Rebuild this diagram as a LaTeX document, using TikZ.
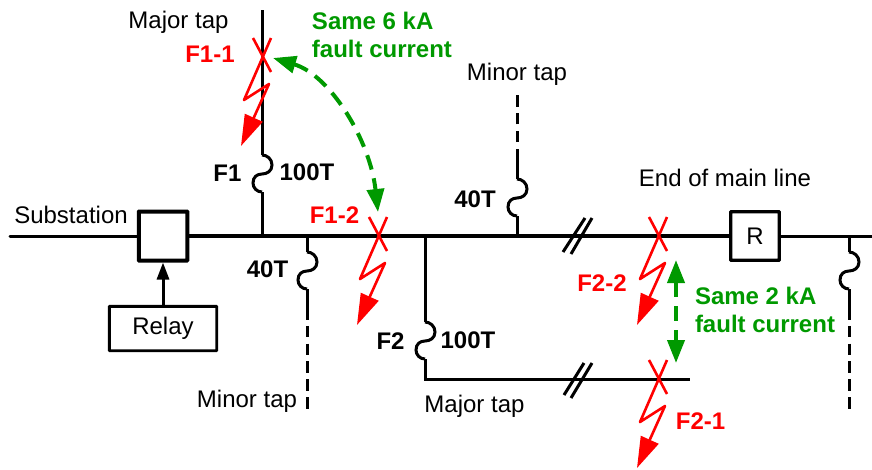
\documentclass[tikz,border=0pt]{standalone}
\usepackage{fontspec}
\setmainfont{Liberation Sans}
\usetikzlibrary{arrows.meta}

\begin{document}
\begin{tikzpicture}[
        x=1pt, y=-1pt,
        font=\fontsize{24}{28}\selectfont,
        heavy/.style={line width=3.6pt},
        wire/.style={line width=3pt},
        taildash/.style={line width=3pt, dash pattern=on 11.5pt off 6.3pt},
        box/.style={draw, line width=3.4pt, rounded corners=0.5pt, inner sep=0pt, align=center},
        bold/.style={font=\fontsize{24}{28}\selectfont\bfseries},
        faultlabel/.style={bold, text=red},
        samelabel/.style={bold, text=samegreen, align=left},
        same/.style={samegreen, line width=4pt, dash pattern=on 15pt off 9pt, {Triangle[length=23pt,width=17pt]}-{Triangle[length=23pt,width=17pt]}},
        fuse/.pic={
            \draw[wire] (0,0) .. controls (5,0) and (10,4) .. (10,10) .. controls (10,16) and (5,19) .. (0,19)
                .. controls (-5,19) and (-9,22) .. (-9,28) .. controls (-9,33) and (-5,37) .. (0,37);
            \coordinate (-in) at (0,0);
            \coordinate (-out) at (0,37);
        },
        fault/.pic={
            \draw[red, line width=2.6pt] (-9,-19) -- (9,15);
            \draw[red, line width=2.6pt, line join=round, -{Triangle[length=31pt,width=19pt]}] (9,-19) -- (-18,43) -- (7,27) -- (-21,89);
        }
    ]
    \definecolor{samegreen}{RGB}{0,153,0}
    \useasboundingbox (0,0) rectangle (872,469);

    % Nodes
    \node[box, line width=4pt, minimum width=48.5pt, minimum height=49pt] (breaker) at (163,236) {};
    \node[box, minimum size=48.5pt] (recloser) at (755,236) {R};
    \node[box, line width=2.8pt, minimum width=107.3pt, minimum height=44.3pt] (relay) at (163,328.5) {Relay};

    % Main line
    \coordinate (mainL) at (10,236);
    \coordinate (mainR) at (872,236);
    \coordinate (tapF1) at (262,236);
    \coordinate (tapF2) at (425,236);
    \coordinate (tapA) at (307,236);
    \coordinate (tapB) at (517,236);
    \coordinate (tapC) at (849,236);
    \draw[wire, line cap=round] (mainL) -- (breaker);
    \draw[heavy] (breaker) -- (recloser);
    \draw[wire] (recloser) -- (mainR);
    \draw[wire, -{Triangle[length=17pt,width=12pt]}] (relay) -- (breaker);

    % Major tap F1
    \coordinate (topF1) at (262,10);
    \pic (fuseF1) at (262,155) {fuse};
    \draw[wire] (topF1) -- (fuseF1-in);
    \draw[wire] (fuseF1-out) -- (tapF1);

    % Major tap F2
    \coordinate (cornerF2) at (425,379);
    \coordinate (endF2) at (690,379);
    \pic (fuseF2) at (425,322) {fuse};
    \draw[wire] (tapF2) -- (fuseF2-in);
    \draw[wire] (fuseF2-out) -- (cornerF2) -- (endF2);

    % Minor taps
    \coordinate (soloA) at (307,308);
    \coordinate (endA) at (307,414);
    \pic (fuseA) at (307,252) {fuse};
    \draw[wire] (tapA) -- (fuseA-in);
    \draw[wire] (fuseA-out) -- (soloA);
    \draw[taildash] (soloA) -- (endA);

    \coordinate (soloB) at (517,160);
    \coordinate (endB) at (517,91);
    \pic (fuseB) at (517,179) {fuse};
    \draw[wire] (tapB) -- (fuseB-out);
    \draw[wire] (fuseB-in) -- (soloB);
    \draw[taildash] (soloB) -- (endB);

    \coordinate (soloC) at (849,308);
    \coordinate (endC) at (849,414);
    \pic (fuseC) at (849,252) {fuse};
    \draw[wire] (tapC) -- (fuseC-in);
    \draw[wire] (fuseC-out) -- (soloC);
    \draw[taildash] (soloC) -- (endC);

    % Conductor marks
    \coordinate (markA1) at (563,252);
    \coordinate (markA2) at (585,218);
    \coordinate (markB1) at (571,254);
    \coordinate (markB2) at (592,218);
    \coordinate (markC1) at (564,395);
    \coordinate (markC2) at (584,363);
    \coordinate (markD1) at (571,398);
    \coordinate (markD2) at (592,363);
    \draw[wire] (markA1) -- (markA2);
    \draw[wire] (markB1) -- (markB2);
    \draw[wire] (markC1) -- (markC2);
    \draw[wire] (markD1) -- (markD2);

    % Faults
    \pic at (262,57) {fault};
    \pic at (378,236) {fault};
    \pic at (658,236) {fault};
    \pic at (658,379) {fault};

    % Same current arrows
    \coordinate (sameA) at (273,58);
    \coordinate (sameB) at (378,212);
    \coordinate (sameC) at (676,260);
    \coordinate (sameD) at (676,363);
    \draw[same] (sameA) .. controls (330,75) and (370,140) .. (sameB);
    \draw[same] (sameC) -- (sameD);

    % Labels
    \node (majorA) at (178.5,22) {Major tap};
    \node (minorA) at (517,74) {Minor tap};
    \node (minorB) at (247,401) {Minor tap};
    \node (majorB) at (474.5,406) {Major tap};
    \node (subst) at (71,215) {Substation};
    \node (mainend) at (725,178) {End of main line};
    \node[bold] (nameF1) at (227.5,173) {F1};
    \node[bold] (ratingF1) at (307,172) {100T};
    \node[bold] (nameF2) at (390.5,341) {F2};
    \node[bold] (ratingF2) at (468,340) {100T};
    \node[bold] (ratingA) at (267.5,269) {40T};
    \node[bold] (ratingB) at (475,199) {40T};
    \node[faultlabel] (f11) at (210,54) {F1-1};
    \node[faultlabel] (f12) at (334.5,215) {F1-2};
    \node[faultlabel] (f22) at (602,283) {F2-2};
    \node[faultlabel] (f21) at (700.5,421) {F2-1};
    \node[samelabel] (sameSix) at (382,35) {Same 6 kA\\fault current};
    \node[samelabel] (sameTwo) at (765,309.5) {Same 2 kA\\fault current};
\end{tikzpicture}
\end{document}
